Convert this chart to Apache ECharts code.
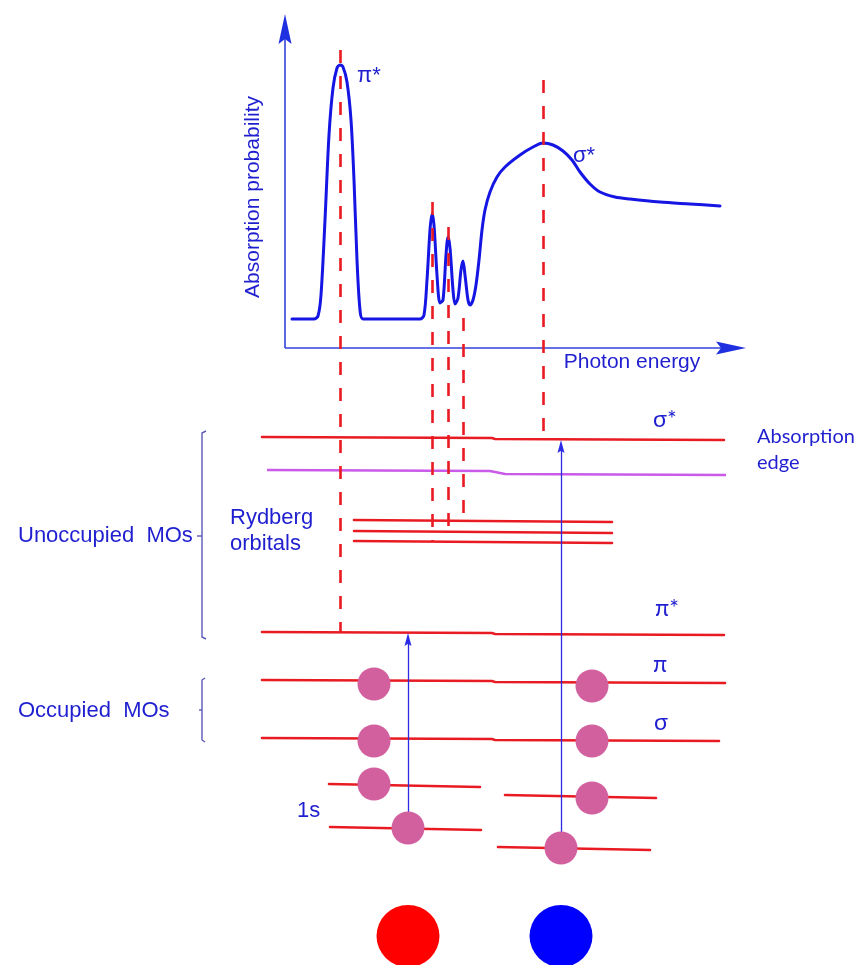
<!DOCTYPE html>
<html>
<head>
<meta charset="utf-8">
<title>X-ray absorption and molecular orbitals</title>
<script src="https://cdn.jsdelivr.net/npm/echarts@6/dist/echarts.min.js"></script>
<style>
  html, body { margin: 0; padding: 0; background: #ffffff; }
  #main { width: 859px; height: 965px; }
</style>
</head>
<body>
<div id="main"></div>
<script>
// ---- Diagram data (drawing units: x to the right, y downward) ----

// Absorption spectrum: pi* resonance, three Rydberg peaks, edge step and sigma* shape resonance
const spectrum = [
  [292, 319], [314, 319], [318, 316], [321, 295], [325, 220], [329, 135], [333, 88],
  [337, 68], [340, 65], [343, 67], [347, 82], [351, 120], [354, 180], [357, 260],
  [360, 310], [363, 319], [420, 319], [424, 315], [427, 280], [430, 230], [432, 214],
  [434, 225], [437, 275], [440, 303], [443, 300], [446, 255], [448, 237], [450, 248],
  [453, 290], [455, 304], [458, 298], [461, 270], [463, 261], [465, 275], [468, 300],
  [470, 305], [473, 300], [476, 285], [479, 260], [482, 230], [485, 210], [490, 192],
  [497, 177], [505, 167], [520, 155], [533, 147], [543, 143], [553, 145], [563, 151],
  [572, 160], [580, 172], [590, 184], [600, 192], [615, 197], [630, 199], [660, 202],
  [690, 204], [720, 206]
];

// Spectrum axes (origin, end of shaft) and their arrow tips
const axisShafts = [
  [[285, 348], [285, 30]],
  [[285, 348], [730, 348]]
];
const axisTipUp = [[285, 14]];
const axisTipRight = [[746, 348]];

// Red dashed guides linking spectral features to orbital levels
const guides = [
  [[340, 50], [340, 632]],
  [[432, 202], [432, 541]],
  [[448, 227], [448, 526]],
  [[463, 318], [463, 513]],
  [[543, 80], [543, 433]]
];

// Orbital energy levels
const levels = [
  [[262, 437], [492, 438], [495, 439], [724, 440]],   // sigma*
  [[262, 632], [492, 633], [495, 634], [724, 635]],   // pi*
  [[262, 680], [492, 681], [495, 682], [725, 683]],   // pi
  [[262, 738], [492, 739], [495, 740], [719, 741]],   // sigma
  [[354, 520], [612, 522]],                           // Rydberg
  [[354, 531], [612, 533]],
  [[354, 541], [612, 543]],
  [[329, 784], [480, 787]],                           // 1s, left atom
  [[330, 827], [481, 830]],
  [[505, 795], [656, 798]],                           // 1s, right atom
  [[498, 847], [650, 850]]
];
const absorptionEdge = [[267, 470], [490, 471], [505, 474], [726, 475]];

// Brackets grouping unoccupied and occupied orbitals
const brackets = [
  [[206, 431], [202, 433], [202, 637], [206, 639]],
  [[202, 536], [197, 536]],
  [[205, 678], [202, 680], [202, 740], [205, 742]],
  [[202, 710], [199, 710]]
];

// 1s -> pi* and 1s -> sigma* excitations
const transitions = [
  [[408, 828], [408, 640]],
  [[561, 848], [561, 447]]
];
const transitionTips = [[408, 633], [561, 440]];

// Electrons and the two atoms
const electrons = [
  [374, 684], [374, 741], [374, 784], [408, 828],
  [592, 686], [592, 741], [592, 798], [561, 848]
];
const atomRed = [[408, 936]];
const atomBlue = [[561, 936]];

// Text
const axisTitleY = { text: 'Absorption probability', at: [253, 197] };
const axisTitleX = { text: 'Photon energy', at: [632, 362] };
const peakNames = ['π*', 'σ*'];
const peakNameAt = [[357, 76], [573, 156]];
const groupNames = ['Unoccupied  MOs', 'Occupied  MOs', 'Rydberg\norbitals', '1s'];
const groupNameAt = [[18, 536], [18, 711], [230, 531], [297, 811]];
const orbitalNames = ['σ*', 'π*', 'π', 'σ'];
const orbitalNameAt = [[653, 420], [655, 609], [653, 665], [654, 723]];
const edgeName = { text: 'Absorption\nedge', at: [757, 450] };

// ---- Styles ----
const BLUE_TEXT = '#1f1fd0';
const RED = '#e91b22';
const ARROW_UP = 'path://M6,0 L12,30 L6,25 L0,30 Z';

function segs(list) {
  return list.map(c => ({ coords: c }));
}
function textPoints(names, at) {
  return names.map((n, i) => ({ value: at[i], name: n }));
}
function textSeries(data, label) {
  return {
    type: 'scatter',
    symbolSize: 0,
    silent: true,
    z: 20,
    itemStyle: { opacity: 1 },
    data: data,
    label: Object.assign({
      show: true,
      position: 'right',
      distance: 0,
      formatter: p => p.name,
      color: BLUE_TEXT,
      opacity: 1,
      fontFamily: 'Liberation Sans, Arial, sans-serif',
      fontSize: 22
    }, label)
  };
}
function dotSeries(data, color, size) {
  return {
    type: 'scatter', silent: true, z: 8,
    symbol: 'circle', symbolSize: size,
    itemStyle: { color: color, opacity: 1 },
    data: data
  };
}

const chart = echarts.init(document.getElementById('main'), null, { renderer: 'canvas' });

chart.setOption({
  animation: false,
  backgroundColor: '#ffffff',
  grid: { left: 0, right: 0, top: 0, bottom: 0 },
  xAxis: { type: 'value', min: 0, max: 859, show: false },
  yAxis: { type: 'value', min: 0, max: 965, inverse: true, show: false },
  series: [
    // energy levels
    {
      type: 'lines', coordinateSystem: 'cartesian2d', polyline: true, silent: true, z: 3,
      lineStyle: { color: RED, width: 2.6, opacity: 1, cap: 'round' },
      data: segs(levels)
    },
    {
      type: 'lines', coordinateSystem: 'cartesian2d', polyline: true, silent: true, z: 3,
      lineStyle: { color: '#c95be8', width: 2.6, opacity: 1 },
      data: segs([absorptionEdge])
    },
    // brackets
    {
      type: 'lines', coordinateSystem: 'cartesian2d', polyline: true, silent: true, z: 3,
      lineStyle: { color: '#5a5ab8', width: 1.4, opacity: 1 },
      data: segs(brackets)
    },
    // spectrum axes
    {
      type: 'lines', coordinateSystem: 'cartesian2d', polyline: true, silent: true, z: 4,
      lineStyle: { color: '#3342dc', width: 1.6, opacity: 1 },
      data: segs(axisShafts)
    },
    {
      type: 'scatter', silent: true, z: 4,
      symbol: ARROW_UP, symbolSize: [13, 30],
      itemStyle: { color: '#1f30e0', opacity: 1 },
      data: axisTipUp.map(p => [p[0], p[1] + 15])
    },
    {
      type: 'scatter', silent: true, z: 4,
      symbol: ARROW_UP, symbolSize: [13, 30], symbolRotate: -90,
      itemStyle: { color: '#1f30e0', opacity: 1 },
      data: axisTipRight.map(p => [p[0] - 15, p[1]])
    },
    // spectrum curve
    {
      type: 'line', silent: true, z: 5,
      smooth: 0.3, showSymbol: false,
      lineStyle: { color: '#1515e4', width: 3, cap: 'round', join: 'round' },
      data: spectrum
    },
    // dashed guides
    {
      type: 'lines', coordinateSystem: 'cartesian2d', silent: true, z: 6,
      lineStyle: { color: RED, width: 2.6, opacity: 1, type: [13, 13] },
      data: segs(guides)
    },
    // excitation arrows
    {
      type: 'lines', coordinateSystem: 'cartesian2d', silent: true, z: 7,
      lineStyle: { color: '#2b2be6', width: 1.3, opacity: 1 },
      data: segs(transitions)
    },
    {
      type: 'scatter', silent: true, z: 7,
      symbol: ARROW_UP, symbolSize: [7, 13],
      itemStyle: { color: '#2b2be6', opacity: 1 },
      data: transitionTips.map(p => [p[0], p[1] + 6.5])
    },
    // electrons and atoms
    dotSeries(electrons, '#d2609f', 33),
    dotSeries(atomRed, '#ff0000', [63, 62]),
    dotSeries(atomBlue, '#0000ff', [63, 62]),
    // text
    textSeries([{ value: axisTitleY.at, name: axisTitleY.text }],
      { position: 'inside', rotate: 90, fontSize: 21, align: 'center', verticalAlign: 'middle' }),
    textSeries([{ value: axisTitleX.at, name: axisTitleX.text }],
      { position: 'inside', fontSize: 21, align: 'center', verticalAlign: 'middle' }),
    textSeries(textPoints(peakNames, peakNameAt), { fontSize: 22 }),
    textSeries(textPoints(groupNames, groupNameAt), { fontSize: 22, lineHeight: 26 }),
    textSeries(textPoints(orbitalNames, orbitalNameAt),
      { fontFamily: 'Lato, Carlito, sans-serif', fontSize: 23 }),
    textSeries([{ value: edgeName.at, name: edgeName.text }],
      { fontFamily: 'Lato, Carlito, sans-serif', fontSize: 20, lineHeight: 26 })
  ]
});
</script>
</body>
</html>
